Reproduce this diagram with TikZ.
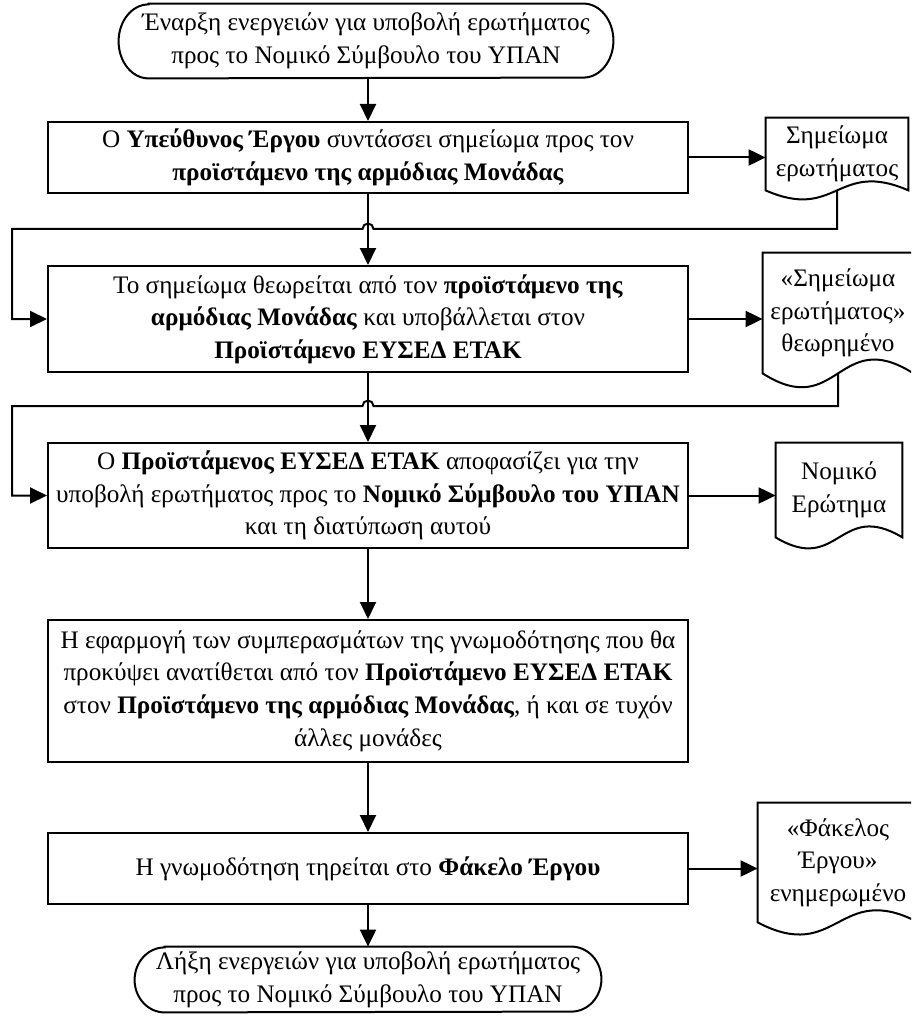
\documentclass[tikz,border=0pt]{standalone}
\usepackage{fontspec}
\setmainfont{Liberation Serif}
\usetikzlibrary{arrows.meta,calc}

\tikzset{
  txt/.style={font=\fontsize{12.6}{16.3}\selectfont, align=center, inner sep=0pt},
  line/.style={line width=1pt},
  conn/.style={line width=1pt, -{Triangle[length=8.5pt,width=8pt]}},
  procbox/.style={txt, draw, line width=1pt, minimum width=320pt},
  docnode/.style={txt, minimum width=#1},
  termnode/.style={txt, minimum width=#1},
}

% document symbol: straight top and sides, wavy bottom edge
\newcommand\docoutline[2]{%
  \draw[line] (#1.south west) -- (#1.north west) -- (#1.north east) -- (#1.south east)
    .. controls ($(#1.south)+(0,#2)$) and ($(#1.south)+(0,-#2)$) .. (#1.south west) -- cycle;}

% terminator: flat top and bottom, elliptical ends
\newcommand\termoutline[1]{%
  \draw[line] ($(#1.north west)+(15pt,0)$) -- ($(#1.north east)+(-15pt,0)$)
    arc[start angle=90, end angle=-90, x radius=15pt, y radius=\termry]
    -- ($(#1.south west)+(15pt,0)$)
    arc[start angle=270, end angle=90, x radius=15pt, y radius=\termry] -- cycle;}

\begin{document}
\begin{tikzpicture}[x=0.5pt,y=-0.5pt]
\useasboundingbox (0,0) rectangle (911,1016);
\clip (0,0) rectangle (911,1016);

% terminators
\node[termnode=247pt, minimum height=37pt] (start) at (366,41)
  {Έναρξη ενεργειών για υποβολή ερωτήματος\\προς το Νομικό Σύμβουλο του ΥΠΑΝ};
\def\termry{18.5pt}
\termoutline{start}

\node[termnode=233pt, minimum height=32.5pt] (end) at (368,979.5)
  {Λήξη ενεργειών για υποβολή ερωτήματος\\προς το Νομικό Σύμβουλο του ΥΠΑΝ};
\def\termry{16.25pt}
\termoutline{end}

% process steps
\node[procbox, minimum height=35.5pt] (b1) at (368,157.5)
  {Ο \textbf{Υπεύθυνος Έργου} συντάσσει σημείωμα προς τον\\\textbf{προϊστάμενο της αρμόδιας Μονάδας}};
\node[procbox, minimum height=53pt] (b2) at (368,319)
  {Το σημείωμα θεωρείται από τον \textbf{προϊστάμενο της}\\\textbf{αρμόδιας Μονάδας} και υποβάλλεται στον\\\textbf{Προϊστάμενο ΕΥΣΕΔ ΕΤΑΚ}};
\node[procbox, minimum height=52.5pt] (b3) at (368,495.5)
  {Ο \textbf{Προϊστάμενος ΕΥΣΕΔ ΕΤΑΚ} αποφασίζει για την\\υποβολή ερωτήματος προς το \textbf{Νομικό Σύμβουλο του ΥΠΑΝ}\\και τη διατύπωση αυτού};
\node[procbox, minimum height=71pt] (b4) at (368,691)
  {Η εφαρμογή των συμπερασμάτων της γνωμοδότησης που θα\\προκύψει ανατίθεται από τον \textbf{Προϊστάμενο ΕΥΣΕΔ ΕΤΑΚ}\\στον \textbf{Προϊστάμενο της αρμόδιας Μονάδας}, ή και σε τυχόν\\άλλες μονάδες};
\node[procbox, minimum height=35.5pt] (b5) at (368,868.5)
  {Η γνωμοδότηση τηρείται στο \textbf{Φάκελο Έργου}};

% documents
\node[docnode=71pt, minimum height=36pt] (d1) at (837,154) {Σημείωμα\\ερωτήματος};
\docoutline{d1}{15.6pt}
\node[docnode=75pt, minimum height=60pt] (d2) at (838,313) {«Σημείωμα\\ερωτήματος»\\θεωρημένο};
\docoutline{d2}{24pt}
\node[docnode=63pt, minimum height=47pt] (d3) at (839,490) {Νομικό\\Ερώτημα};
\docoutline{d3}{19pt}
\node[docnode=80pt, minimum height=59.5pt] (d4) at (838,862.5) {«Φάκελος\\Έργου»\\ενημερωμένο};
\docoutline{d4}{21pt}

% crossing points and left return column
\coordinate (h1) at (368,229);
\coordinate (h2) at (368,406);
\coordinate (lx) at (12,0);

% return connectors, hopping over the main flow line
\draw[conn] (d1.south) -- (d1.south |- h1) -- ($(h1)+(2.75pt,0)$)
  arc[start angle=0, end angle=180, radius=2.75pt] -- (h1 -| lx) |- (b2.west);
\draw[conn] (d2.south) -- (d2.south |- h2) -- ($(h2)+(2.75pt,0)$)
  arc[start angle=0, end angle=180, radius=2.75pt] -- (h2 -| lx) |- (b3.west);

% main flow
\draw[conn] (start.south -| b1.north) -- (b1);
\draw[conn] (b1) -- (b2);
\draw[conn] (b2) -- (b3);
\draw[conn] (b3) -- (b4);
\draw[conn] (b4) -- (b5);
\draw[conn] (b5) -- (end);

% outputs
\draw[conn] (b1.east) -- (b1.east -| d1.west);
\draw[conn] (b2.east) -- (b2.east -| d2.west);
\draw[conn] (b3.east) -- (b3.east -| d3.west);
\draw[conn] (b5.east) -- (b5.east -| d4.west);
\end{tikzpicture}
\end{document}
